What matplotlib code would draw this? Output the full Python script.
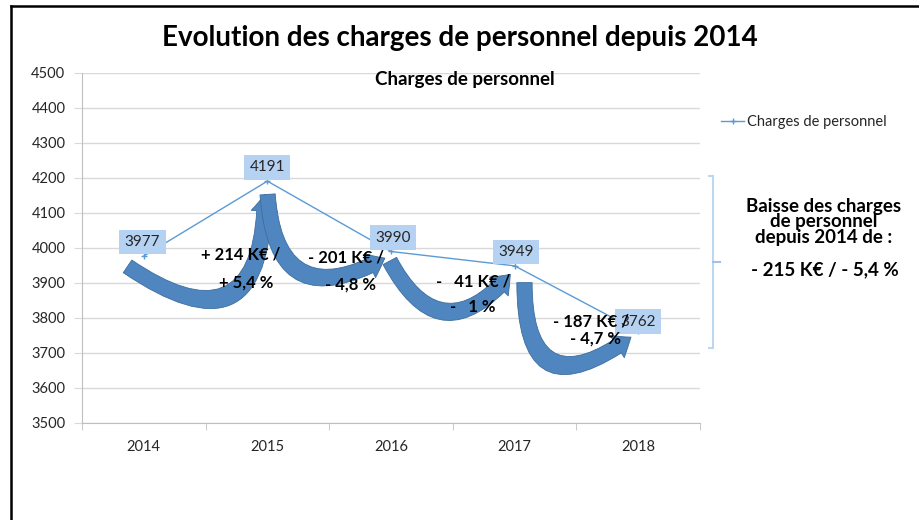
import matplotlib
matplotlib.use("Agg")
import matplotlib.pyplot as plt
from matplotlib.patches import FancyArrowPatch
from matplotlib.lines import Line2D

plt.rcParams['font.family'] = ['Lato', 'DejaVu Sans']

# ---- data ----
years = ["2014", "2015", "2016", "2017", "2018"]
charges = [3977, 4191, 3990, 3949, 3762]
change_amounts = ["+ 214 K€ /", "- 201 K€ /", "-   41 K€ /", "- 187 K€ /"]
change_pcts = ["+ 5,4 %", "- 4,8 %", "-   1 %", "- 4,7 %"]
yticks = [3500, 3600, 3700, 3800, 3900, 4000, 4100, 4200, 4300, 4400, 4500]
title = "Evolution des charges de personnel depuis 2014"
subtitle = "Charges de personnel"
series_name = "Charges de personnel"
summary = "Baisse des charges\nde personnel\ndepuis 2014 de :"
summary_value = "- 215 K€ / - 5,4 %"

line_color = "#5b9bd5"
text_color = "#262626"

fig = plt.figure(figsize=(9.2, 5.2), dpi=100)
ax = fig.add_axes([82/920, 1-423/520, (700-82)/920, (423-73)/520])

x = list(range(len(years)))
ax.plot(x, charges, color=line_color, lw=1.0, marker='+', ms=4, mew=1.0, zorder=5,
        label=series_name)

ax.set_xlim(-0.5, len(years)-0.5)
ax.set_ylim(yticks[0], yticks[-1])
ax.set_yticks(yticks)
ax.set_xticks(x)
ax.set_xticklabels(years)
ax.set_xticks([i - 0.5 for i in range(len(years)+1)], minor=True)
ax.tick_params(axis='x', which='major', length=0, pad=12, labelsize=10.5, labelcolor=text_color)
ax.tick_params(axis='x', which='minor', length=5, color='#bfbfbf')
ax.tick_params(axis='y', length=6, color='#d9d9d9', labelsize=10.5, labelcolor=text_color, pad=6)
ax.grid(axis='y', color='#d9d9d9', lw=1.0)
ax.set_axisbelow(True)
for s in ['top', 'right']:
    ax.spines[s].set_visible(False)
ax.spines['left'].set_color('#bfbfbf')
ax.spines['bottom'].set_color('#bfbfbf')

# data labels (offsets in points)
label_offsets = [(-1, 5), (0, 5), (1.5, 5), (1, 5), (0, 2)]
for i, v in enumerate(charges):
    dx, dy = label_offsets[i]
    ax.annotate(str(v), (i, v), xytext=(dx, dy), textcoords='offset points',
                ha='center', va='bottom', fontsize=11, color=text_color, zorder=8,
                bbox=dict(boxstyle='square,pad=0.35', fc='#b6d2f2', ec='none'))

# curved arrows between years
arrow_style = "simple,head_width=19,head_length=12,tail_width=11"
arrows = [
    ((-0.15, -25), (0.98, -30), 0.95),
    ((0.0, -30), (0.97, -15), 0.8),
    ((-0.02, -20), (0.98, -18), 0.75),
    ((0.08, -40), (0.96, -12), 1.0),
]
for i, ((ax0, ay0), (bx0, by0), rad) in enumerate(arrows):
    pa = (i + ax0, charges[i] + ay0)
    pb = (i + bx0, charges[i+1] + by0)
    arr = FancyArrowPatch(pa, pb, arrowstyle=arrow_style, connectionstyle=f"arc3,rad={rad}",
                          mutation_scale=1.0, fc='#4f86c0', ec='#3d6d9e', lw=0.6, zorder=4)
    ax.add_patch(arr)

# change texts (positions relative to the category index)
amount_pos = [(0.785, 3980), (1.634, 3974), (2.662, 3903), (3.617, 3789)]
pct_pos = [(0.825, 3900), (1.675, 3897), (2.662, 3831), (3.657, 3740)]
for (cx, cy), t in zip(amount_pos, change_amounts):
    ax.text(cx, cy, t, ha='center', va='center', fontsize=12, fontweight='bold',
            color='black', zorder=9)
for (cx, cy), t in zip(pct_pos, change_pcts):
    ax.text(cx, cy, t, ha='center', va='center', fontsize=12, fontweight='bold',
            color='black', zorder=9)

# title / subtitle
fig.text(460/920, 1-38/520, title, ha='center', va='center', fontsize=20, fontweight='bold',
         color='black')
fig.text(465/920, 1-80/520, subtitle, ha='center', va='center', fontsize=13.5, fontweight='bold',
         color='black')

# legend
fig.legend(handles=[Line2D([0], [0], color=line_color, lw=1, marker='+', ms=4)],
           labels=[series_name], loc='center left', bbox_to_anchor=(708/920, 1-122/520),
           frameon=False, fontsize=10.5, handlelength=1.6, handletextpad=0.2,
           labelcolor=text_color)

# bracket
bc = '#bdd7ee'
fig.add_artist(Line2D([713/920, 713/920], [1-176/520, 1-348/520], color=bc, lw=1.5))
fig.add_artist(Line2D([709/920, 713/920], [1-176/520, 1-176/520], color=bc, lw=1.5))
fig.add_artist(Line2D([709/920, 713/920], [1-348/520, 1-348/520], color=bc, lw=1.5))
fig.add_artist(Line2D([713/920, 720/920], [1-262/520, 1-262/520], color='#9dc3e6', lw=1.5))

fig.text(824/920, 1-222/520, summary, ha='center', va='center', fontsize=13.5,
         fontweight='bold', color='black', linespacing=0.92)
fig.text(825/920, 1-270/520, summary_value, ha='center', va='center', fontsize=13.5,
         fontweight='bold', color='black')

# slide frame
fig.add_artist(Line2D([11/920, 919/920], [1-6/520, 1-6/520], color='black', lw=1.8))
fig.add_artist(Line2D([11/920, 11/920], [1-6/520, 0], color='black', lw=1.8))

fig.savefig("out.png", dpi=100)
